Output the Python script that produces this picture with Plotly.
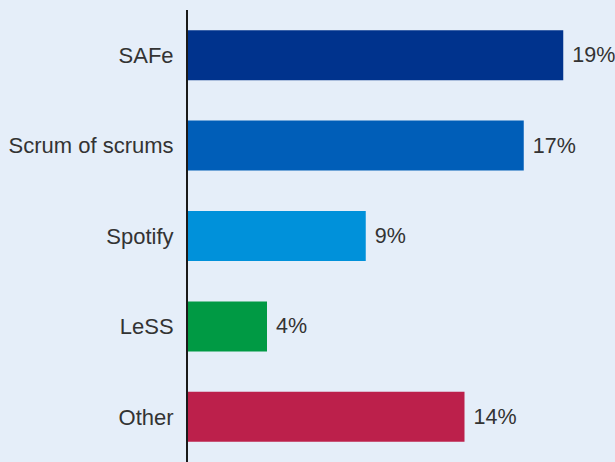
import plotly.graph_objects as go

categories = ["SAFe", "Scrum of scrums", "Spotify", "LeSS", "Other"]
values = [19, 17, 9, 4, 14]
colors = ["#00338d", "#005eb8", "#0091da", "#009a44", "#bc204b"]
labels = [f"\u00a0{v}%" for v in values]

FONT = "Liberation Sans, Arial, sans-serif"

fig = go.Figure(go.Bar(
    y=categories,
    x=values,
    orientation="h",
    marker=dict(color=colors, line=dict(width=0)),
    text=labels,
    textposition="outside",
    textfont=dict(size=21.5, color="#333333", family=FONT),
    cliponaxis=False,
    width=0.553,
))

fig.update_layout(
    width=615, height=462,
    paper_bgcolor="#e5eef9",
    plot_bgcolor="#e5eef9",
    margin=dict(l=188, r=32, t=10, b=0),
    showlegend=False,
    font=dict(family=FONT, size=21.5, color="#333333"),
    xaxis=dict(range=[0, 20], visible=False, showgrid=False, zeroline=False),
    yaxis=dict(
        autorange=False, range=[4.5, -0.5],
        showline=True, linecolor="#1a1a1a", linewidth=2,
        showgrid=False, zeroline=False, ticks="",
        ticklabelstandoff=8,
        tickfont=dict(size=22, color="#333333", family=FONT),
    ),
)

fig.write_html(
    "out.html",
    config={"displayModeBar": False},
    post_script="document.body.style.margin='0';document.body.style.background='#e5eef9';",
)
